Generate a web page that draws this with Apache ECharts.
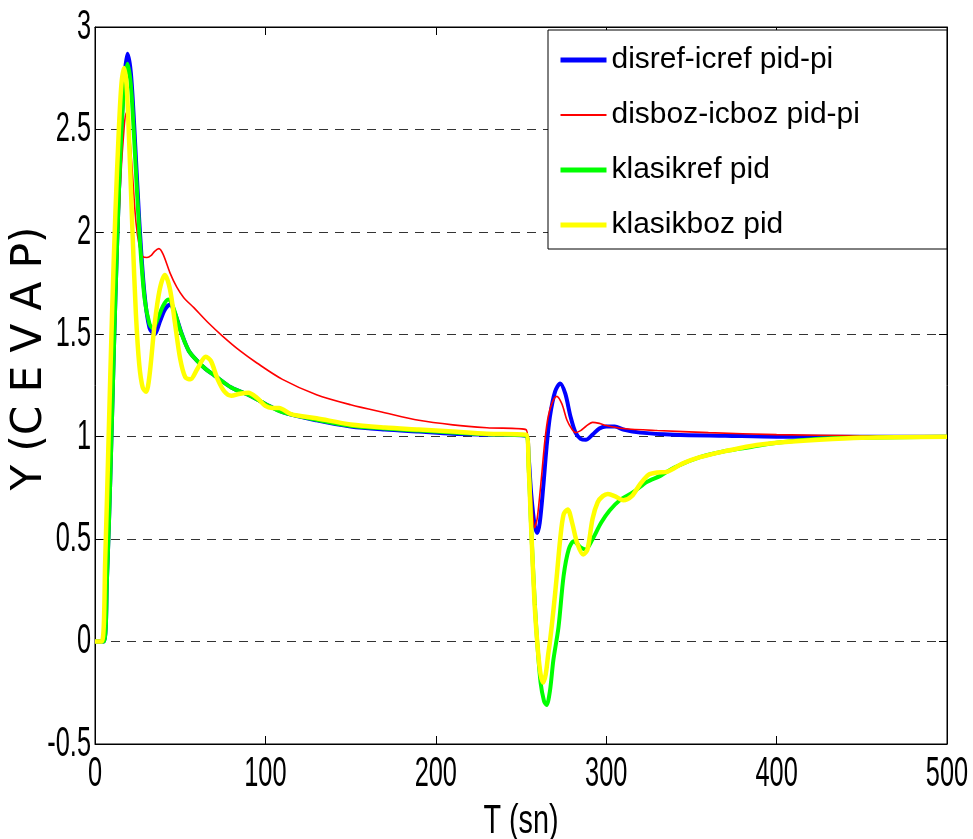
<!DOCTYPE html>
<html>
<head>
<meta charset="utf-8">
<script src="https://cdn.jsdelivr.net/npm/echarts@6/dist/echarts.min.js"></script>
<style>html,body{margin:0;padding:0;background:#fff}#c{width:973px;height:839px}</style>
</head>
<body>
<div id="c"></div>
<script>
const seriesNames = ['disref-icref pid-pi', 'disboz-icboz pid-pi', 'klasikref pid', 'klasikboz pid'];
const xTicks = [0, 100, 200, 300, 400, 500];
const yTicks = [-0.5, 0, 0.5, 1, 1.5, 2, 2.5, 3];
const xTitle = 'T (sn)';
const yTitle = 'Y (C E V A P)';

const blueData = [[0,0],[5,0],[7,0.3],[9,0.8],[11,1.4],[13,1.95],[15,2.4],[17,2.73],[19,2.87],[21,2.78],[23,2.52],[26,2.05],[29,1.7],[32,1.53],[35,1.5],[38,1.56],[41,1.62],[44,1.645],[47,1.6],[51,1.5],[55,1.42],[60,1.37],[65,1.33],[70,1.3],[80,1.24],[91,1.2],[100,1.16],[110,1.12],[130,1.08],[150,1.05],[170,1.035],[190,1.025],[210,1.015],[230,1.01],[253,1.005],[254.5,0.9],[256,0.72],[258,0.57],[259.5,0.53],[261,0.58],[263,0.75],[265,0.95],[267,1.1],[270,1.22],[273,1.26],[276,1.21],[279,1.1],[282,1.02],[285,0.99],[288,0.985],[292,1.01],[296,1.04],[300,1.05],[305,1.05],[310,1.035],[320,1.02],[340,1.01],[370,1.005],[400,1.0],[500,1.0]];

const redData = [[0,0],[5,0],[7,0.3],[9,0.8],[11,1.35],[13,1.85],[15,2.25],[17,2.5],[18.2,2.58],[20,2.5],[22,2.28],[24,2.05],[26,1.93],[28,1.88],[30.5,1.875],[33,1.885],[35,1.905],[37.5,1.918],[40,1.89],[44,1.8],[48,1.73],[52,1.68],[58,1.63],[66,1.56],[75,1.49],[85,1.42],[95,1.36],[110,1.28],[130,1.205],[150,1.156],[170,1.117],[190,1.08],[210,1.058],[230,1.044],[253,1.034],[254.5,0.9],[256,0.72],[258,0.556],[259.5,0.6],[262,0.8],[264,0.98],[266,1.1],[268.5,1.17],[271,1.197],[274,1.16],[277,1.08],[280,1.035],[282,1.02],[285,1.03],[288,1.05],[292,1.07],[296,1.065],[300,1.055],[310,1.04],[330,1.03],[360,1.02],[400,1.01],[450,1.005],[500,1.0]];

const greenData = [[0,0],[5,0],[7,0.3],[9,0.8],[11,1.4],[13,1.95],[15,2.4],[17,2.7],[19,2.82],[21,2.72],[23,2.45],[26,2.0],[29,1.68],[32,1.55],[34,1.53],[37,1.58],[40,1.64],[43,1.67],[46,1.63],[50,1.52],[55,1.42],[60,1.37],[65,1.33],[70,1.3],[80,1.24],[91,1.2],[100,1.16],[110,1.12],[130,1.083],[150,1.054],[170,1.04],[190,1.03],[210,1.02],[230,1.012],[253,1.005],[254.5,0.85],[256,0.55],[258,0.2],[259.5,0.0],[261.5,-0.2],[263.5,-0.29],[265,-0.31],[267,-0.24],[269,-0.09],[272,0.07],[275,0.32],[278,0.45],[281,0.49],[285,0.46],[288,0.45],[292,0.5],[297,0.58],[302,0.64],[308,0.69],[316,0.73],[324,0.78],[332,0.81],[340,0.85],[355,0.9],[370,0.93],[385,0.95],[400,0.97],[425,0.99],[450,0.995],[500,1.0]];

const yellowData = [[0,0],[4,0],[6,0.4],[8,1.0],[10,1.6],[12,2.1],[14,2.5],[15.5,2.72],[17,2.8],[18.5,2.72],[20,2.45],[22,2.0],[24,1.6],[26,1.35],[28,1.24],[30,1.22],[32,1.3],[35,1.55],[38,1.72],[41,1.79],[44,1.72],[47,1.55],[50,1.38],[53,1.29],[56,1.28],[60,1.33],[65,1.39],[68,1.37],[72,1.28],[76,1.22],[80,1.2],[85,1.21],[90,1.215],[95,1.19],[100,1.15],[104,1.14],[108,1.14],[115,1.11],[130,1.09],[150,1.06],[170,1.045],[190,1.035],[210,1.025],[230,1.015],[253,1.01],[254.5,0.85],[256,0.55],[258,0.18],[260,-0.05],[261.5,-0.16],[263,-0.2],[264.5,-0.16],[266,-0.06],[267,0.0],[269,0.15],[271,0.32],[273,0.5],[275,0.62],[277.4,0.645],[280,0.58],[283,0.48],[286.5,0.425],[289,0.45],[292,0.6],[295,0.68],[298,0.71],[301,0.72],[305,0.71],[310,0.69],[315,0.71],[320,0.77],[325,0.815],[330,0.825],[336,0.83],[345,0.87],[355,0.9],[370,0.93],[385,0.955],[400,0.97],[425,0.985],[450,0.995],[500,1.0]];

const FONT = "'Liberation Sans', Arial, sans-serif";
const colors = ['#0000ff', '#ff0000', '#00ff00', '#ffff00'];
const widths = [4, 1.6, 4, 4.5];
const chart = echarts.init(document.getElementById('c'), null, {renderer: 'canvas'});

function mkSeries(i, data) {
  return {
    name: seriesNames[i], type: 'line', data: data, showSymbol: false, symbol: 'none',
    smooth: 0.3, color: colors[i],
    lineStyle: {color: colors[i], width: widths[i]},
    animation: false
  };
}

const option = {
  animation: false,
  backgroundColor: '#fff',
  grid: {left: 95, right: 26, top: 27, bottom: 95, show: true, borderColor: '#000', borderWidth: 1,
         backgroundColor: '#fff', containLabel: false, outerBoundsMode: 'none'},
  legend: {
    orient: 'vertical', left: 548, top: 30,
    padding: [13, 87, 7, 10],
    itemWidth: 46, itemHeight: 14, itemGap: 21,
    backgroundColor: '#fff', borderColor: '#000', borderWidth: 1,
    itemStyle: {opacity: 0},
    textStyle: {fontFamily: FONT, fontSize: 30, color: '#000', lineHeight: 34},
    data: seriesNames.map((n, i) => ({name: n, lineStyle: {width: i === 1 ? 2 : 5, color: colors[i]}}))
  },
  xAxis: [{
    type: 'value', min: 0, max: 500, interval: 100, position: 'bottom',
    axisLine: {show: true, onZero: false, lineStyle: {color: '#000', width: 1}},
    axisTick: {show: true, inside: true, length: 8, lineStyle: {color: '#000'}},
    axisLabel: {show: false},
    splitLine: {show: false}
  }, {
    type: 'value', min: 0, max: 500, interval: 100, position: 'top',
    axisLine: {show: true, onZero: false, lineStyle: {color: '#000', width: 1}},
    axisTick: {show: true, inside: true, length: 8, lineStyle: {color: '#000'}},
    axisLabel: {show: false}, splitLine: {show: false}
  }],
  yAxis: [{
    type: 'value', min: -0.5, max: 3, interval: 0.5, position: 'left',
    axisLine: {show: true, onZero: false, lineStyle: {color: '#000', width: 1}},
    axisTick: {show: true, inside: true, length: 8, lineStyle: {color: '#000'}},
    axisLabel: {show: false},
    splitLine: {show: true, lineStyle: {color: '#333', width: 1, type: [9, 7]}}
  }, {
    type: 'value', min: -0.5, max: 3, interval: 0.5, position: 'right',
    axisLine: {show: true, onZero: false, lineStyle: {color: '#000', width: 1}},
    axisTick: {show: true, inside: true, length: 8, lineStyle: {color: '#000'}},
    axisLabel: {show: false}, splitLine: {show: false}
  }],
  series: [
    mkSeries(0, blueData),
    mkSeries(1, redData),
    mkSeries(2, greenData),
    mkSeries(3, yellowData)
  ]
};
chart.setOption(option);

// Condensed tick labels and axis titles, placed through the axes' own scales
const xAxisY = chart.convertToPixel({yAxisIndex: 0}, -0.5);
const yAxisX = chart.convertToPixel({xAxisIndex: 0}, 0);
const xMid = (chart.convertToPixel({xAxisIndex: 0}, 0) + chart.convertToPixel({xAxisIndex: 0}, 500)) / 2;
const yMid = (chart.convertToPixel({yAxisIndex: 0}, -0.5) + chart.convertToPixel({yAxisIndex: 0}, 3)) / 2;
const labelFont = "43px 'Liberation Sans', Arial, sans-serif";
const graphics = [];
xTicks.forEach(v => {
  graphics.push({type: 'text', x: chart.convertToPixel({xAxisIndex: 0}, v), y: xAxisY + 9, scaleX: 0.59,
    silent: true, style: {text: String(v), font: labelFont, fill: '#000', align: 'center', verticalAlign: 'top'}});
});
yTicks.forEach(v => {
  graphics.push({type: 'text', x: yAxisX - 4, y: chart.convertToPixel({yAxisIndex: 0}, v), scaleX: 0.59,
    silent: true, style: {text: String(v), font: labelFont, fill: '#000', align: 'right', verticalAlign: 'middle'}});
});
graphics.push({type: 'text', x: xMid, y: xAxisY + 78, scaleX: 0.72, silent: true,
  style: {text: xTitle, font: "40px 'Liberation Sans', Arial, sans-serif", fill: '#000', align: 'center', verticalAlign: 'middle'}});
graphics.push({type: 'text', x: 30, y: yMid - 27, rotation: Math.PI / 2, silent: true,
  style: {text: yTitle, font: "42px 'DejaVu Sans', 'Liberation Sans', sans-serif", fill: '#000', align: 'center', verticalAlign: 'middle'}});
chart.setOption({graphic: graphics});
</script>
</body>
</html>
